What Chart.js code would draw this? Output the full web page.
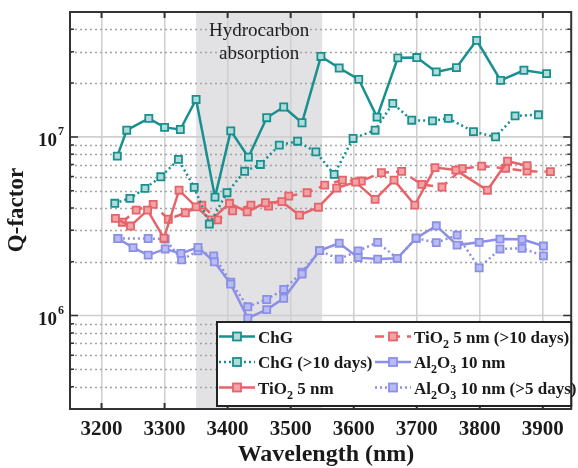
<!DOCTYPE html>
<html>
<head>
<meta charset="utf-8">
<script src="https://cdn.jsdelivr.net/npm/chart.js@4"></script>
<style>
html, body { margin: 0; padding: 0; background: #fff; }
canvas { display: block; }
</style>
</head>
<body>
<canvas id="chart" width="578" height="468"></canvas>
<script>
// axis ticks
const xTicks = [3200, 3300, 3400, 3500, 3600, 3700, 3800, 3900];
const yDecades = [1e6, 1e7];
const bandRange = [3350, 3550];

// ChG
const chgX = [3225, 3240, 3275, 3300, 3325, 3350, 3380, 3405, 3433, 3462, 3489, 3518, 3548, 3577, 3608, 3637, 3670, 3700, 3731, 3763, 3795, 3833, 3870, 3906];
const chgQ = [7.8e6, 10.9e6, 12.7e6, 11.3e6, 11.0e6, 16.2e6, 4.6e6, 10.8e6, 7.7e6, 12.8e6, 14.7e6, 12.0e6, 28.2e6, 24.3e6, 21.0e6, 12.9e6, 27.7e6, 27.8e6, 23.1e6, 24.4e6, 34.7e6, 20.7e6, 23.6e6, 22.6e6];

// ChG (>10 days)
const chgOldX = [3221, 3245, 3269, 3294, 3322, 3347, 3371, 3399, 3427, 3452, 3482, 3511, 3540, 3569, 3599, 3634, 3662, 3692, 3725, 3750, 3790, 3825, 3856, 3893];
const chgOldQ = [4.25e6, 4.53e6, 5.15e6, 5.98e6, 7.48e6, 5.22e6, 3.25e6, 4.87e6, 6.42e6, 7.01e6, 8.99e6, 9.46e6, 8.24e6, 6.17e6, 9.8e6, 10.9e6, 15.4e6, 12.4e6, 12.3e6, 12.7e6, 10.7e6, 10.0e6, 13.1e6, 13.3e6];

// TiO2 5 nm
const tioX = [3222, 3246, 3273, 3299, 3323, 3350, 3374, 3403, 3431, 3460, 3486, 3514, 3544, 3573, 3603, 3634, 3664, 3697, 3729, 3762, 3812, 3844, 3875];
const tioQ = [3.50e6, 3.17e6, 3.89e6, 2.71e6, 5.03e6, 4.06e6, 3.43e6, 4.25e6, 3.81e6, 4.28e6, 4.34e6, 3.65e6, 4.04e6, 5.17e6, 5.58e6, 4.47e6, 5.73e6, 4.15e6, 6.73e6, 6.52e6, 5.03e6, 7.31e6, 6.90e6];

// TiO2 5 nm (>10 days)
const tioOldX = [3233, 3255, 3282, 3306, 3333, 3359, 3384, 3408, 3437, 3465, 3497, 3526, 3554, 3582, 3612, 3644, 3676, 3708, 3740, 3772, 3803, 3841, 3875, 3912];
const tioOldQ = [3.33e6, 3.89e6, 4.19e6, 3.46e6, 3.76e6, 4.15e6, 3.43e6, 3.86e6, 4.15e6, 4.10e6, 4.66e6, 4.87e6, 5.37e6, 5.73e6, 5.66e6, 6.30e6, 6.41e6, 5.42e6, 5.24e6, 6.64e6, 6.86e6, 6.68e6, 6.43e6, 6.39e6];

// Al2O3 10 nm
const alX = [3226, 3250, 3274, 3301, 3326, 3353, 3379, 3405, 3432, 3462, 3489, 3518, 3546, 3577, 3607, 3638, 3669, 3699, 3731, 3764, 3799, 3832, 3867, 3901];
const alQ = [2.70e6, 2.40e6, 2.18e6, 2.36e6, 2.23e6, 2.41e6, 2.00e6, 1.50e6, 0.967e6, 1.08e6, 1.25e6, 1.71e6, 2.31e6, 2.54e6, 2.11e6, 2.07e6, 2.09e6, 2.71e6, 3.18e6, 2.48e6, 2.57e6, 2.68e6, 2.67e6, 2.45e6];

// Al2O3 10 nm (>5 days)
const alOldX = [3226, 3274, 3301, 3327, 3353, 3378, 3405, 3432, 3462, 3489, 3518, 3546, 3577, 3607, 3638, 3669, 3699, 3731, 3764, 3799, 3832, 3867, 3901];
const alOldQ = [2.70e6, 2.70e6, 2.68e6, 2.05e6, 2.30e6, 2.16e6, 1.54e6, 1.12e6, 1.23e6, 1.40e6, 1.75e6, 2.31e6, 2.07e6, 2.30e6, 2.57e6, 2.09e6, 2.71e6, 2.56e6, 2.82e6, 1.85e6, 2.36e6, 2.38e6, 2.16e6];

const legendLabels = ['ChG', 'ChG (>10 days)', 'TiO_2 5 nm', 'TiO_2 5 nm (>10 days)', 'Al_2O_3 10 nm', 'Al_2O_3 10 nm (>5 days)'];

const serif = '"Liberation Serif", "Times New Roman", serif';
const teal = '#17908f', tealFill = '#b2dcda';
const red = '#e6636a', redFill = '#f2a3a6';
const blue = '#8b8fe6', blueFill = '#b9bcf2';

function pts(xs, ys) {
    return xs.map((x, i) => ({ x: x, y: ys[i] }));
}

function series(label, xs, ys, color, fill, dash) {
    return {
        label: label,
        data: pts(xs, ys),
        borderColor: color,
        backgroundColor: fill,
        borderWidth: 2.5,
        borderDash: dash,
        pointStyle: 'rect',
        pointRadius: 5,
        pointBorderWidth: 1.8,
        pointBorderColor: color,
        pointBackgroundColor: fill,
        tension: 0
    };
}

// draw text with "_x" subscripts
function drawRich(ctx, str, x, y, size) {
    const parts = str.split(/(_\d)/);
    parts.forEach(p => {
        if (!p) return;
        if (p[0] === '_') {
            ctx.font = 'bold ' + Math.round(size * 0.68) + 'px ' + serif;
            ctx.fillText(p[1], x, y + 5);
            x += ctx.measureText(p[1]).width;
        } else {
            ctx.font = 'bold ' + size + 'px ' + serif;
            ctx.fillText(p, x, y);
            x += ctx.measureText(p).width;
        }
    });
}

const decor = {
    id: 'decor',
    beforeDraw(chart) {
        const { ctx, chartArea: a, scales: { x } } = chart;
        const x1 = x.getPixelForValue(bandRange[0]);
        const x2 = x.getPixelForValue(bandRange[1]);
        ctx.save();
        ctx.fillStyle = '#e2e1e3';
        ctx.fillRect(x1, a.top, x2 - x1, a.bottom - a.top);
        ctx.restore();
    },
    beforeDatasetsDraw(chart) {
        const { ctx, chartArea: a, scales: { x, y } } = chart;
        ctx.save();
        // minor dotted lines
        ctx.strokeStyle = '#a3a3a3';
        ctx.lineWidth = 1.3;
        ctx.setLineDash([2, 3]);
        for (let e = 5; e <= 7; e++) {
            for (let m = 2; m <= 9; m++) {
                const v = m * Math.pow(10, e);
                if (v <= y.min || v >= y.max) continue;
                const py = Math.round(y.getPixelForValue(v)) + 0.5;
                ctx.beginPath();
                ctx.moveTo(a.left, py);
                ctx.lineTo(a.right, py);
                ctx.stroke();
            }
        }
        // decades
        ctx.setLineDash([]);
        ctx.strokeStyle = '#cfcfcf';
        ctx.lineWidth = 1.6;
        yDecades.forEach(v => {
            const py = y.getPixelForValue(v);
            ctx.beginPath();
            ctx.moveTo(a.left, py);
            ctx.lineTo(a.right, py);
            ctx.stroke();
        });
        // band label
        const cx = (x.getPixelForValue(bandRange[0]) + x.getPixelForValue(bandRange[1])) / 2;
        ctx.fillStyle = '#1e1e1e';
        ctx.font = '19px ' + serif;
        ctx.textAlign = 'center';
        ctx.textBaseline = 'middle';
        ctx.fillText('Hydrocarbon', cx, a.top + 19);
        ctx.fillText('absorption', cx, a.top + 42);
        ctx.restore();
    },
    afterDatasetsDraw(chart) {
        const { ctx, chartArea: a, scales: { x, y } } = chart;
        ctx.save();
        // frame
        ctx.strokeStyle = '#333';
        ctx.lineWidth = 2;
        ctx.strokeRect(a.left, a.top, a.right - a.left, a.bottom - a.top);
        // inward ticks
        ctx.lineWidth = 2;
        xTicks.forEach(v => {
            const px = x.getPixelForValue(v);
            ctx.beginPath();
            ctx.moveTo(px, a.top); ctx.lineTo(px, a.top + 6);
            ctx.moveTo(px, a.bottom); ctx.lineTo(px, a.bottom - 6);
            ctx.stroke();
        });
        ctx.lineWidth = 1.5;
        for (let e = 5; e <= 7; e++) {
            for (let m = 1; m <= 9; m++) {
                const v = m * Math.pow(10, e);
                if (v <= y.min || v >= y.max) continue;
                const py = y.getPixelForValue(v);
                const len = m === 1 ? 8 : 4;
                ctx.beginPath();
                ctx.moveTo(a.left, py); ctx.lineTo(a.left + len, py);
                ctx.moveTo(a.right, py); ctx.lineTo(a.right - len, py);
                ctx.stroke();
            }
        }
        // x tick labels
        ctx.fillStyle = '#1a1a1a';
        ctx.textAlign = 'center';
        ctx.textBaseline = 'middle';
        ctx.font = 'bold 21px ' + serif;
        xTicks.forEach(v => {
            ctx.fillText(String(v), x.getPixelForValue(v), a.bottom + 21);
        });
        // decade labels
        ctx.textAlign = 'left';
        ctx.textBaseline = 'alphabetic';
        yDecades.forEach(v => {
            const py = y.getPixelForValue(v);
            const exp = String(Math.round(Math.log10(v)));
            ctx.font = 'bold 19px ' + serif;
            const w1 = ctx.measureText('10').width;
            ctx.font = 'bold 12px ' + serif;
            const w2 = ctx.measureText(exp).width;
            const sx = a.left - 7 - w1 - w2;
            ctx.font = 'bold 19px ' + serif;
            ctx.fillText('10', sx, py + 9);
            ctx.font = 'bold 12px ' + serif;
            ctx.fillText(exp, sx + w1 + 1, py - 2);
        });
        // axis titles
        ctx.textAlign = 'center';
        ctx.textBaseline = 'middle';
        ctx.font = 'bold 24px ' + serif;
        ctx.fillText('Wavelength (nm)', 326, 455);
        ctx.save();
        ctx.translate(17, 210);
        ctx.rotate(-Math.PI / 2);
        ctx.font = 'bold 23px ' + serif;
        ctx.fillText('Q-factor', 0, 0);
        ctx.restore();
        // legend box
        const lx = 217, ly = 322, lw = a.right - 217, lh = 84;
        ctx.fillStyle = '#fff';
        ctx.fillRect(lx, ly, lw, lh);
        ctx.strokeStyle = '#222';
        ctx.lineWidth = 2;
        ctx.strokeRect(lx, ly, lw, lh);
        ctx.textAlign = 'left';
        ctx.textBaseline = 'alphabetic';
        const cols = [219, 375];
        const rows = [336.5, 362, 387.5];
        chart.data.datasets.forEach((ds, i) => {
            const sx = cols[i < 3 ? 0 : 1];
            const sy = rows[i % 3];
            ctx.strokeStyle = ds.borderColor;
            ctx.lineWidth = 2.5;
            ctx.setLineDash(ds.borderDash || []);
            ctx.beginPath();
            ctx.moveTo(sx, sy); ctx.lineTo(sx + 36, sy);
            ctx.stroke();
            ctx.setLineDash([]);
            ctx.fillStyle = ds.pointBackgroundColor;
            ctx.fillRect(sx + 14, sy - 4, 8, 8);
            ctx.lineWidth = 1.8;
            ctx.strokeRect(sx + 14, sy - 4, 8, 8);
            ctx.fillStyle = '#1a1a1a';
            drawRich(ctx, legendLabels[i], sx + 39, sy + 6, 17);
        });
        ctx.restore();
    }
};

new Chart(document.getElementById('chart'), {
    type: 'line',
    data: {
        datasets: [
            series('ChG', chgX, chgQ, teal, tealFill, []),
            series('ChG (>10 days)', chgOldX, chgOldQ, teal, tealFill, [2, 3]),
            series('TiO2 5 nm', tioX, tioQ, red, redFill, []),
            series('TiO2 5 nm (>10 days)', tioOldX, tioOldQ, red, redFill, [9, 7]),
            series('Al2O3 10 nm', alX, alQ, blue, blueFill, []),
            series('Al2O3 10 nm (>5 days)', alOldX, alOldQ, blue, blueFill, [2, 3])
        ]
    },
    options: {
        responsive: false,
        animation: false,
        devicePixelRatio: 1,
        layout: { padding: { left: 70, top: 12, right: 1, bottom: 59 } },
        plugins: {
            legend: { display: false },
            tooltip: { enabled: false }
        },
        scales: {
            x: {
                type: 'linear',
                min: 3150,
                max: 3945,
                bounds: 'data',
                afterBuildTicks: s => { s.ticks = xTicks.map(v => ({ value: v })); },
                grid: { color: '#d0d0d0', lineWidth: 1.6, drawTicks: false },
                border: { display: false },
                ticks: { display: false },
                title: { display: false }
            },
            y: {
                type: 'logarithmic',
                min: 3e5,
                max: 5e7,
                display: false
            }
        }
    },
    plugins: [decor]
});
</script>
</body>
</html>
